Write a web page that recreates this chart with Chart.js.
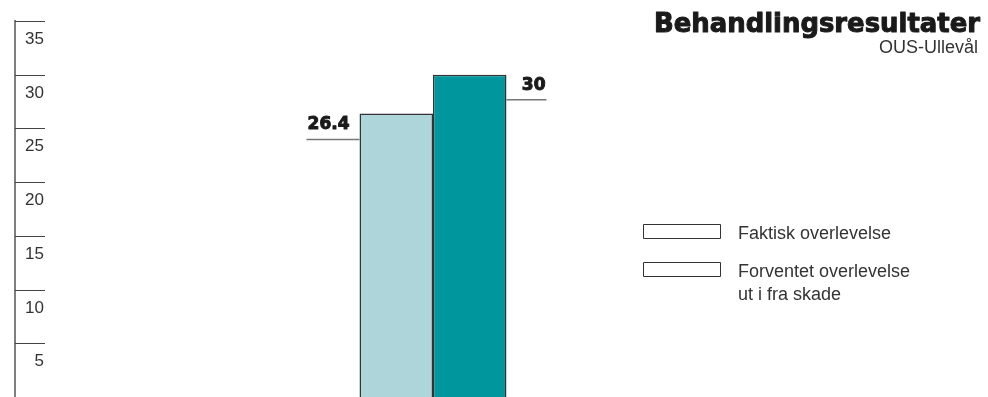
<!DOCTYPE html>
<html>
    <head>
        <meta charset="utf-8" />
        <title>Behandlingsresultater</title>
        <script src="https://cdn.jsdelivr.net/npm/chart.js@4.4.1/dist/chart.umd.min.js"></script>
        <style>
            body { margin: 0; background: #fff; }
            #wrap { width: 988px; height: 397px; }
        </style>
        <script>
            const titleText = "Behandlingsresultater";
            const subtitleText = "OUS-Ullevål";
            const seriesNames = [ ["Faktisk overlevelse"], ["Forventet overlevelse", "ut i fra skade"] ];
            const seriesValues = [ 26.4, 30 ];
            const barColors = [ "#aed5d9", "#00969e" ];
            const tickValues = [ 5, 10, 15, 20, 25, 30, 35 ];

            // heavy text: fill plus a thin stroke, close to Arial Black
            function heavyText(ctx, text, x, y, maxW)
            {
                ctx.lineWidth = 1;
                ctx.strokeStyle = ctx.fillStyle;
                ctx.lineJoin = "round";
                if (maxW) {
                    ctx.strokeText(text, x, y, maxW);
                    ctx.fillText(text, x, y, maxW);
                } else {
                    ctx.strokeText(text, x, y);
                    ctx.fillText(text, x, y);
                }
            }

            // axis, short tick lines, value labels, legend and titles
            const decor = {
                id: "decor",
                afterDatasetsDraw(chart)
                {
                    let ctx = chart.ctx;
                    let area = chart.chartArea;
                    let y = chart.scales.y;
                    ctx.save();

                    ctx.strokeStyle = "#555";
                    ctx.lineWidth = 1.5;
                    ctx.beginPath();
                    ctx.moveTo(area.left, area.top - 1);
                    ctx.lineTo(area.left, area.bottom);
                    ctx.stroke();

                    ctx.font = "17px 'Liberation Sans', Arial, sans-serif";
                    ctx.fillStyle = "#333";
                    ctx.textAlign = "right";
                    ctx.textBaseline = "alphabetic";
                    ctx.lineWidth = 1;
                    ctx.strokeStyle = "#444";
                    tickValues.forEach(v => {
                        let py = Math.round(y.getPixelForValue(v)) + 0.5;
                        ctx.beginPath();
                        ctx.moveTo(area.left, py);
                        ctx.lineTo(area.left + 30, py);
                        ctx.stroke();
                        ctx.fillText(String(v), area.left + 29, py + 22);
                    });

                    // value labels with leader lines
                    let b0 = chart.getDatasetMeta(0).data[0];
                    let b1 = chart.getDatasetMeta(1).data[0];
                    let l0 = b0.x - b0.width / 2;
                    let r1 = b1.x + b1.width / 2;
                    ctx.strokeStyle = "#777";
                    ctx.lineWidth = 1.5;
                    ctx.beginPath();
                    ctx.moveTo(l0 - 53, b0.y + 26);
                    ctx.lineTo(l0, b0.y + 26);
                    ctx.moveTo(r1, b1.y + 25);
                    ctx.lineTo(r1 + 40, b1.y + 25);
                    ctx.stroke();
                    ctx.font = "bold 17px 'DejaVu Sans', sans-serif";
                    ctx.fillStyle = "#1a1a1a";
                    ctx.textAlign = "right";
                    heavyText(ctx, String(seriesValues[0]), l0 - 10, b0.y + 16);
                    heavyText(ctx, String(seriesValues[1]), r1 + 39, b1.y + 15);

                    // legend, empty boxes
                    ctx.font = "18px 'Liberation Sans', Arial, sans-serif";
                    ctx.textAlign = "left";
                    ctx.strokeStyle = "#333";
                    ctx.lineWidth = 1;
                    let top = 224;
                    seriesNames.forEach(lines => {
                        ctx.fillStyle = "#fff";
                        ctx.fillRect(643.5, top + 0.5, 77, 14);
                        ctx.strokeRect(643.5, top + 0.5, 77, 14);
                        ctx.fillStyle = "#333";
                        lines.forEach((t, i) => ctx.fillText(t, 738, top + 15 + i * 23));
                        top += 38;
                    });

                    ctx.textAlign = "right";
                    ctx.font = "bold 26px 'DejaVu Sans', sans-serif";
                    ctx.fillStyle = "#1a1a1a";
                    heavyText(ctx, titleText, 980, 32, 326);
                    ctx.font = "18px 'Liberation Sans', Arial, sans-serif";
                    ctx.fillStyle = "#333";
                    ctx.fillText(subtitleText, 978, 53);

                    ctx.restore();
                }
            };

            function drawChart()
            {
                new Chart("myChart", {
                    type: "bar",
                    data: {
                        labels: [ "" ],
                        datasets: seriesValues.map((v, i) => ({
                            label: seriesNames[i].join(" "),
                            data: [ v ],
                            backgroundColor: barColors[i],
                            borderColor: "#333",
                            borderWidth: 1.5,
                            borderSkipped: "bottom",
                            categoryPercentage: 0.1758,
                            barPercentage: 1
                        }))
                    },
                    options: {
                        responsive: true,
                        maintainAspectRatio: false,
                        animation: false,
                        layout: { padding: { left: 15, top: 21, right: 137, bottom: 0 } },
                        scales: {
                            x: { display: false },
                            y: { display: false, min: 0, max: 35 }
                        },
                        plugins: {
                            legend: { display: false },
                            tooltip: { enabled: false }
                        }
                    },
                    plugins: [ decor ]
                });
            }
        </script>
    </head>

    <body onload="drawChart()">
        <div id="wrap">
            <canvas id="myChart"></canvas>
        </div>
    </body>
</html>
